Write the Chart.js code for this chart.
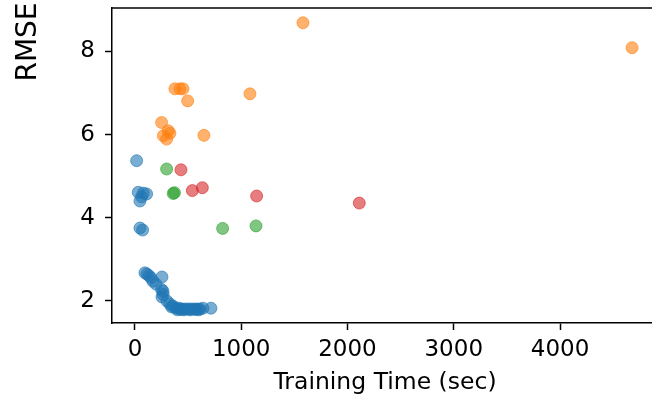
<!DOCTYPE html>
<html>
<head>
<meta charset="utf-8">
<script src="https://cdn.jsdelivr.net/npm/chart.js@4"></script>
<style>
 html, body { margin: 0; padding: 0; background: #fff; overflow: hidden; }
 #wrap { width: 652px; height: 395px; overflow: hidden; }
</style>
</head>
<body>
<div id="wrap"><canvas id="rmseChart" width="665" height="395"></canvas></div>
<script>
// training time (sec) and RMSE per model group
const blueTime = [16, 31, 63, 110, 47, 78, 47, 72,
 94, 113, 132, 151, 169, 198, 254, 264, 254, 301, 329, 358, 386, 414, 442, 471, 499, 527, 555, 584, 612, 640, 715,
 345, 400, 430, 460, 520, 570, 600, 265, 250];
const blueRmse = [5.37, 4.61, 4.50, 4.57, 4.40, 4.59, 3.75, 3.70,
 2.67, 2.64, 2.60, 2.55, 2.47, 2.40, 2.57, 2.23, 2.09, 1.99, 1.92, 1.87, 1.82, 1.82, 1.80, 1.80, 1.80, 1.80, 1.80, 1.80, 1.80, 1.82, 1.82,
 1.85, 1.78, 1.79, 1.78, 1.78, 1.79, 1.78, 2.15, 2.27];

const orangeTime = [1581, 4678, 376, 424, 452, 496, 1082, 251, 313, 267, 298, 329, 649];
const orangeRmse = [8.69, 8.09, 7.10, 7.10, 7.10, 6.81, 6.98, 6.29, 6.09, 5.97, 5.89, 6.03, 5.98];

const greenTime = [298, 360, 372, 825, 1139];
const greenRmse = [5.17, 4.58, 4.60, 3.74, 3.80];

const redTime = [433, 540, 634, 1145, 2111];
const redRmse = [5.15, 4.65, 4.72, 4.52, 4.35];

const xTicks = [0, 1000, 2000, 3000, 4000];
const yTicks = [2, 4, 6, 8];

function toPoints(xs, ys) {
 return xs.map(function (x, i) { return { x: x, y: ys[i] }; });
}

function series(label, xs, ys, rgb) {
 return {
  label: label,
  data: toPoints(xs, ys),
  backgroundColor: 'rgba(' + rgb + ',0.6)',
  borderColor: 'rgba(' + rgb + ',0.6)',
  borderWidth: 1,
  pointRadius: 6,
 };
}

const FONT = "'DejaVu Sans', sans-serif";

// top spine + axis titles, placed like the original figure
const extras = {
 id: 'extras',
 afterDraw: function (chart) {
  const c = chart.ctx;
  const a = chart.chartArea;
  c.save();
  c.strokeStyle = '#000';
  c.lineWidth = 1.5;
  c.beginPath();
  c.moveTo(a.left, a.top);
  c.lineTo(a.right, a.top);
  c.stroke();

  c.fillStyle = '#000';
  c.textAlign = 'center';
  c.textBaseline = 'alphabetic';
  c.font = '23.5px ' + FONT;
  c.fillText('Training Time (sec)', 385, 389);

  c.translate(36, 42);
  c.rotate(-Math.PI / 2);
  c.font = '28px ' + FONT;
  c.fillText('RMSE', 0, 0);
  c.restore();
 }
};

const ctx = document.getElementById('rmseChart').getContext('2d');

new Chart(ctx, {
 type: 'scatter',
 data: {
  datasets: [
   series('blue', blueTime, blueRmse, '31,119,180'),
   series('orange', orangeTime, orangeRmse, '255,127,14'),
   series('green', greenTime, greenRmse, '44,160,44'),
   series('red', redTime, redRmse, '214,39,40'),
  ],
 },
 options: {
  responsive: false,
  animation: false,
  layout: { padding: { top: 8, right: 0, left: 0, bottom: 0 } },
  plugins: { legend: { display: false }, tooltip: { enabled: false } },
  scales: {
   x: {
    type: 'linear',
    min: -216,
    max: 4922,
    afterBuildTicks: function (scale) {
     scale.ticks = xTicks.map(function (v) { return { value: v }; });
    },
    afterFit: function (scale) {
     scale.height = 72;
     scale.paddingLeft = 0;
     scale.paddingRight = 0;
    },
    grid: {
     drawOnChartArea: false,
     drawTicks: true,
     tickLength: 7,
     tickWidth: 1.5,
     tickColor: '#000',
    },
    border: { display: true, color: '#000', width: 1.5 },
    ticks: {
     color: '#000',
     font: { family: FONT, size: 23 },
     padding: 6,
     maxRotation: 0,
     callback: function (v) { return String(v); },
    },
   },
   y: {
    type: 'linear',
    min: 1.463,
    max: 9.046,
    afterBuildTicks: function (scale) {
     scale.ticks = yTicks.map(function (v) { return { value: v }; });
    },
    afterFit: function (scale) {
     scale.width = 112;
     scale.paddingTop = 0;
     scale.paddingBottom = 0;
    },
    grid: {
     drawOnChartArea: false,
     drawTicks: true,
     tickLength: 7,
     tickWidth: 1.5,
     tickColor: '#000',
    },
    border: { display: true, color: '#000', width: 1.5 },
    ticks: {
     color: '#000',
     font: { family: FONT, size: 23 },
     padding: 10,
     callback: function (v) { return String(v); },
    },
   },
  },
 },
 plugins: [extras],
});
</script>
</body>
</html>
